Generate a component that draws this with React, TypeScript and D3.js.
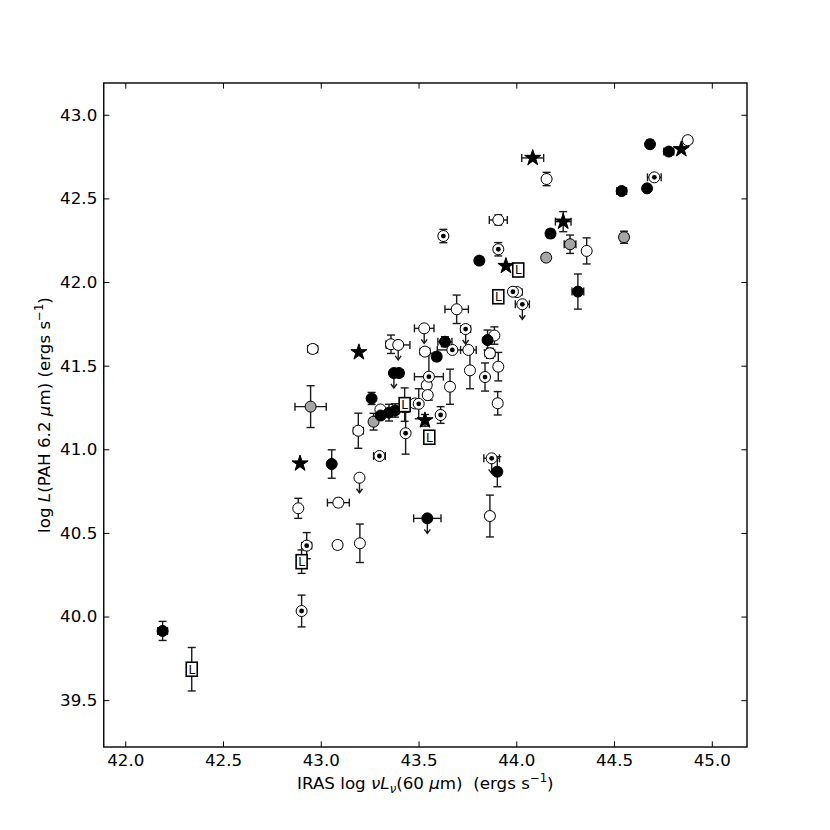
import { useRef, useEffect } from "react";
import * as d3 from "d3";

// each point: [IRAS log nuL60, log L(PAH 6.2), xerr, yerr, upper limit]
const filledPts = [
  [44.684, 42.824, 0, 0.025, 0],
  [44.78, 42.78, 0.025, 0, 0],
  [44.669, 42.56, 0, 0, 0],
  [44.539, 42.544, 0.025, 0, 0],
  [44.175, 42.29, 0.02, 0.025, 0],
  [44.315, 41.943, 0.03, 0.105, 0],
  [43.811, 42.128, 0.02, 0, 0],
  [43.635, 41.643, 0.036, 0.03, 0],
  [43.853, 41.653, 0.02, 0.06, 0],
  [43.593, 41.554, 0.02, 0.025, 0],
  [43.374, 41.456, 0, 0, 1],
  [43.4, 41.456, 0.02, 0, 0],
  [43.349, 41.219, 0, 0.05, 0],
  [43.38, 41.232, 0.02, 0.04, 0],
  [43.306, 41.202, 0.02, 0, 0],
  [43.26, 41.304, 0, 0.036, 0],
  [43.056, 40.912, 0, 0.085, 0],
  [43.545, 40.587, 0.07, 0, 1],
  [42.191, 39.914, 0.025, 0.057, 0],
  [43.903, 40.866, 0.02, 0.09, 0],
];

const openPts = [
  [44.877, 42.848, 0.02, 0, 0],
  [44.155, 42.616, 0, 0.04, 0],
  [44.36, 42.186, 0, 0.078, 0],
  [43.908, 42.371, 0.046, 0.03, 0],
  [44.004, 41.94, 0.025, 0, 0],
  [43.695, 41.837, 0.06, 0.085, 0],
  [43.529, 41.723, 0.05, 0, 1],
  [43.359, 41.628, 0.025, 0.055, 0],
  [43.396, 41.624, 0.06, 0, 1],
  [43.888, 41.68, 0, 0.052, 0],
  [43.533, 41.584, 0.025, 0, 0],
  [43.755, 41.594, 0.04, 0, 0],
  [43.865, 41.574, 0.025, 0.03, 0],
  [43.763, 41.472, 0, 0.11, 0],
  [43.908, 41.494, 0.02, 0.085, 0],
  [43.542, 41.383, 0.02, 0, 0],
  [43.547, 41.324, 0, 0, 0],
  [43.661, 41.374, 0, 0.105, 0],
  [43.905, 41.275, 0.02, 0.07, 0],
  [43.482, 41.274, 0, 0, 0],
  [43.305, 41.238, 0, 0, 0],
  [43.192, 41.111, 0.025, 0.105, 0],
  [43.198, 40.83, 0, 0, 1],
  [42.959, 41.6, 0.025, 0.025, 0],
  [42.885, 40.647, 0.015, 0.06, 0],
  [43.09, 40.681, 0.056, 0.025, 0],
  [43.865, 40.601, 0.02, 0.125, 0],
  [43.086, 40.428, 0.02, 0.025, 0],
  [43.2, 40.438, 0, 0.115, 0],
];

const greyPts = [
  [44.275, 42.226, 0.03, 0.055, 0],
  [44.153, 42.146, 0.02, 0, 0],
  [44.551, 42.268, 0.02, 0.036, 0],
  [43.27, 41.165, 0.02, 0.05, 0],
  [42.948, 41.255, 0.08, 0.125, 0],
];

const dotPts = [
  [44.706, 42.626, 0.035, 0, 0],
  [43.627, 42.275, 0.02, 0.04, 0],
  [43.908, 42.196, 0.02, 0.04, 0],
  [43.983, 41.942, 0.02, 0, 0],
  [44.031, 41.867, 0.036, 0, 1],
  [43.741, 41.719, 0.025, 0, 1],
  [43.673, 41.594, 0.077, 0, 0],
  [43.553, 41.434, 0.074, 0.14, 0],
  [43.84, 41.432, 0, 0.084, 0],
  [43.501, 41.272, 0, 0.09, 0],
  [43.613, 41.205, 0.015, 0.05, 0],
  [43.434, 41.096, 0, 0.125, 0],
  [43.3, 40.96, 0.03, 0, 0],
  [43.874, 40.946, 0.04, 0, 1],
  [42.928, 40.424, 0.025, 0.078, 0],
  [42.902, 40.033, 0, 0.095, 0],
];

const starPts = [
  [44.844, 42.794, 0, 0, 0],
  [44.084, 42.742, 0.056, 0, 0],
  [44.24, 42.361, 0.04, 0.06, 0],
  [43.947, 42.096, 0, 0, 0],
  [43.533, 41.173, 0, 0.035, 0],
  [43.195, 41.58, 0, 0, 0],
  [42.894, 40.915, 0, 0, 0],
];

const linerPts = [
  [44.01, 42.072, 0, 0, 0],
  [43.908, 41.912, 0, 0, 0],
  [43.429, 41.267, 0, 0.1, 0],
  [43.555, 41.072, 0, 0, 0],
  [42.902, 40.328, 0, 0.07, 0],
  [42.34, 39.685, 0, 0.13, 0],
];

const xTicks = [42.0, 42.5, 43.0, 43.5, 44.0, 44.5, 45.0];
const yTicks = [39.5, 40.0, 40.5, 41.0, 41.5, 42.0, 42.5, 43.0];

const FONT = "DejaVu Sans, sans-serif";

function drawChart(el) {
  const width = 830, height = 830;
  const left = 103.75, right = 747, top = 83, bottom = 747;

  const svg = d3.select(el);
  svg.selectAll("*").remove();
  svg.attr("width", width).attr("height", height).style("display", "block");

  svg.append("rect").attr("width", width).attr("height", height).attr("fill", "white");

  const x = d3.scaleLinear().domain([41.89, 45.18]).range([left, right]);
  const y = d3.scaleLinear().domain([39.22, 43.19]).range([bottom, top]);

  const ink = "#1a1a1a";
  const cap = 4;

  const bars = svg.append("g").attr("stroke", ink).attr("stroke-width", 1.4).attr("fill", "none");
  const marks = svg.append("g");

  function errors(p) {
    const [vx, vy, xe, ye, lim] = p;
    const cx = x(vx), cy = y(vy);
    const g = bars.append("g");
    if (xe > 0) {
      const x0 = x(vx - xe), x1 = x(vx + xe);
      g.append("line").attr("x1", x0).attr("x2", x1).attr("y1", cy).attr("y2", cy);
      g.append("line").attr("x1", x0).attr("x2", x0).attr("y1", cy - cap).attr("y2", cy + cap);
      g.append("line").attr("x1", x1).attr("x2", x1).attr("y1", cy - cap).attr("y2", cy + cap);
    }
    if (ye > 0) {
      const y0 = y(vy - ye), y1 = y(vy + ye);
      g.append("line").attr("x1", cx).attr("x2", cx).attr("y1", y0).attr("y2", y1);
      g.append("line").attr("x1", cx - cap).attr("x2", cx + cap).attr("y1", y0).attr("y2", y0);
      g.append("line").attr("x1", cx - cap).attr("x2", cx + cap).attr("y1", y1).attr("y2", y1);
    }
    if (lim) {
      const tip = cy + 15;
      g.append("line").attr("x1", cx).attr("x2", cx).attr("y1", cy).attr("y2", tip);
      g.append("path").attr("d", `M${cx - 3},${tip - 4}L${cx},${tip}L${cx + 3},${tip - 4}`);
    }
  }

  const groups = [
    { pts: openPts, kind: "open" },
    { pts: dotPts, kind: "dot" },
    { pts: greyPts, kind: "grey" },
    { pts: filledPts, kind: "filled" },
    { pts: linerPts, kind: "L" },
    { pts: starPts, kind: "star" },
  ];

  groups.forEach(({ pts }) => pts.forEach(errors));

  const star = d3.symbol().type(d3.symbolStar).size(80);

  groups.forEach(({ pts, kind }) => {
    pts.forEach(([vx, vy]) => {
      const cx = x(vx), cy = y(vy);
      if (kind === "star") {
        marks.append("path").attr("d", star()).attr("transform", `translate(${cx},${cy})`)
          .attr("fill", "black").attr("stroke", "black").attr("stroke-width", 1);
      } else if (kind === "L") {
        marks.append("rect").attr("x", cx - 5.5).attr("y", cy - 7).attr("width", 11).attr("height", 14)
          .attr("fill", "white").attr("stroke", "black").attr("stroke-width", 1.6);
        marks.append("text").attr("x", cx).attr("y", cy + 4.5).attr("text-anchor", "middle")
          .attr("font-family", FONT).attr("font-size", 12).attr("fill", "black").text("L");
      } else {
        const fill = kind === "filled" ? "black" : kind === "grey" ? "#a6a6a6" : "white";
        marks.append("circle").attr("cx", cx).attr("cy", cy).attr("r", 5.5)
          .attr("fill", fill).attr("stroke", "black").attr("stroke-width", 1);
        if (kind === "dot") {
          marks.append("circle").attr("cx", cx).attr("cy", cy).attr("r", 2.4).attr("fill", "black");
        }
      }
    });
  });

  // axes: ticks pointing inward on all four sides
  const fmt = d3.format(".1f");
  const axB = svg.append("g").attr("transform", `translate(0,${bottom})`)
    .call(d3.axisBottom(x).tickValues(xTicks).tickFormat(fmt).tickSize(-5.6).tickPadding(7));
  const axL = svg.append("g").attr("transform", `translate(${left},0)`)
    .call(d3.axisLeft(y).tickValues(yTicks).tickFormat(fmt).tickSize(-5.6).tickPadding(6.5));
  const axT = svg.append("g").attr("transform", `translate(0,${top})`)
    .call(d3.axisTop(x).tickValues(xTicks).tickFormat(() => "").tickSize(-5.6));
  const axR = svg.append("g").attr("transform", `translate(${right},0)`)
    .call(d3.axisRight(y).tickValues(yTicks).tickFormat(() => "").tickSize(-5.6));

  [axB, axL, axT, axR].forEach((a) => {
    a.select(".domain").remove();
    a.selectAll(".tick line").attr("stroke", "black").attr("stroke-width", 1);
    a.selectAll(".tick text").attr("font-family", FONT).attr("font-size", 16.7).attr("fill", "black");
  });

  svg.append("rect").attr("x", left).attr("y", top).attr("width", right - left).attr("height", bottom - top)
    .attr("fill", "none").attr("stroke", "black").attr("stroke-width", 1.4);

  // axis labels
  const xl = svg.append("text").attr("x", (left + right) / 2).attr("y", 789)
    .attr("text-anchor", "middle").attr("font-family", FONT).attr("font-size", 16.7)
    .attr("fill", "black").style("white-space", "pre");
  xl.append("tspan").text("IRAS log ");
  xl.append("tspan").attr("font-style", "italic").text("νL");
  xl.append("tspan").attr("font-style", "italic").attr("font-size", 11.7).attr("dy", 3.5).text("ν");
  xl.append("tspan").attr("dy", -3.5).text("(60 ");
  xl.append("tspan").attr("font-style", "italic").text("μ");
  xl.append("tspan").text("m)  (ergs s");
  xl.append("tspan").attr("font-size", 11.7).attr("dy", -7).text("−1");
  xl.append("tspan").attr("dy", 7).text(")");

  const yl = svg.append("text").attr("transform", `translate(50,${(top + bottom) / 2}) rotate(-90)`)
    .attr("text-anchor", "middle").attr("font-family", FONT).attr("font-size", 16.7)
    .attr("fill", "black").style("white-space", "pre");
  yl.append("tspan").text("log ");
  yl.append("tspan").attr("font-style", "italic").text("L");
  yl.append("tspan").text("(PAH 6.2 ");
  yl.append("tspan").attr("font-style", "italic").text("μ");
  yl.append("tspan").text("m) (ergs s");
  yl.append("tspan").attr("font-size", 11.7).attr("dy", -7).text("−1");
  yl.append("tspan").attr("dy", 7).text(")");
}

export default function App() {
  const ref = useRef(null);
  useEffect(() => {
    drawChart(ref.current);
  }, []);
  return <svg ref={ref} style={{ position: "absolute", left: 0, top: 0 }} />;
}
